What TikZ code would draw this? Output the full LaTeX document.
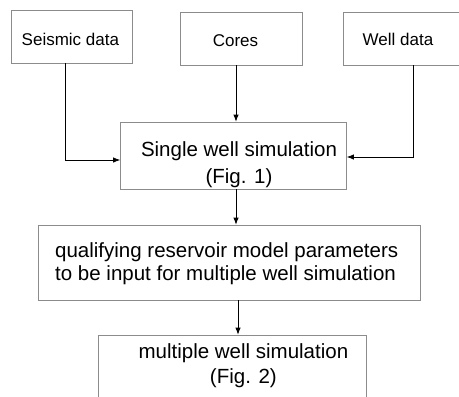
\documentclass[tikz,border=0pt]{standalone}
\usepackage{fontspec}
\setmainfont{Liberation Sans}
\usetikzlibrary{arrows.meta}
\begin{document}
\begin{tikzpicture}[x=1pt,y=-1pt]
        \tikzset{box/.style = {shape=rectangle,draw=black!45,line width=0.8pt,inner sep=0pt}}
        \tikzset{small/.style = {anchor=base,inner sep=0pt,font=\fontsize{17}{20}\selectfont}}
        \tikzset{big/.style = {anchor=base,inner sep=0pt,font=\fontsize{20.5}{24}\selectfont}}
        \tikzset{edge/.style = {line width=0.8pt,-{Latex[length=7pt,width=5.5pt]}}}
        \useasboundingbox (0,0) rectangle (459,397);
        % input boxes on top
        \node[box,minimum width=121pt,minimum height=53pt] (seismic) at (71.5,36.5) {};
        \node[box,minimum width=122pt,minimum height=53pt] (cores) at (241,38.5) {};
        \node[box,minimum width=132pt,minimum height=53pt] (well) at (409,38.5) {};
        \node[small] (seismictxt) at (70.4,45.7) {Seismic data};
        \node[small] (corestxt) at (235.5,46.7) {Cores};
        \node[small] (welltxt) at (398,45.7) {Well data};
        % simulation boxes
        \node[box,minimum width=226pt,minimum height=67pt] (single) at (233.5,155.5) {};
        \node[big] (singletxt) at (239,156) {Single well simulation};
        \node[big] (singlefig) at (239,183) {(Fig. 1)};
        \node[box,minimum width=382pt,minimum height=75pt] (qual) at (229,262.5) {};
        \node[big,anchor=base west] (qualtxt) at (55,257.3) {qualifying reservoir model parameters};
        \node[big,anchor=base west] (qualtxtb) at (55,280.3) {to be input for multiple well simulation};
        \node[box,minimum width=268pt,minimum height=80pt] (multi) at (232.5,375) {};
        \node[big] (multitxt) at (243.4,358.3) {multiple well simulation};
        \node[big] (multifig) at (243.4,383.3) {(Fig. 2)};
        % edges
        \draw[edge] ([xshift=-6.5pt]seismic.south) |- ([yshift=-4.5pt]single.west);
        \draw[edge] ([xshift=-5pt]cores.south) -- ([xshift=-5pt]cores.south |- single.north);
        \draw[edge] ([xshift=4pt]well.south) |- ([yshift=-1.5pt]single.east);
        \draw[edge] ([xshift=2.5pt]single.south) -- ([xshift=2.5pt]single.south |- qual.north);
        \draw[edge] ([xshift=9pt]qual.south) -- ([xshift=9pt]qual.south |- multi.north);
\end{tikzpicture}
\end{document}
